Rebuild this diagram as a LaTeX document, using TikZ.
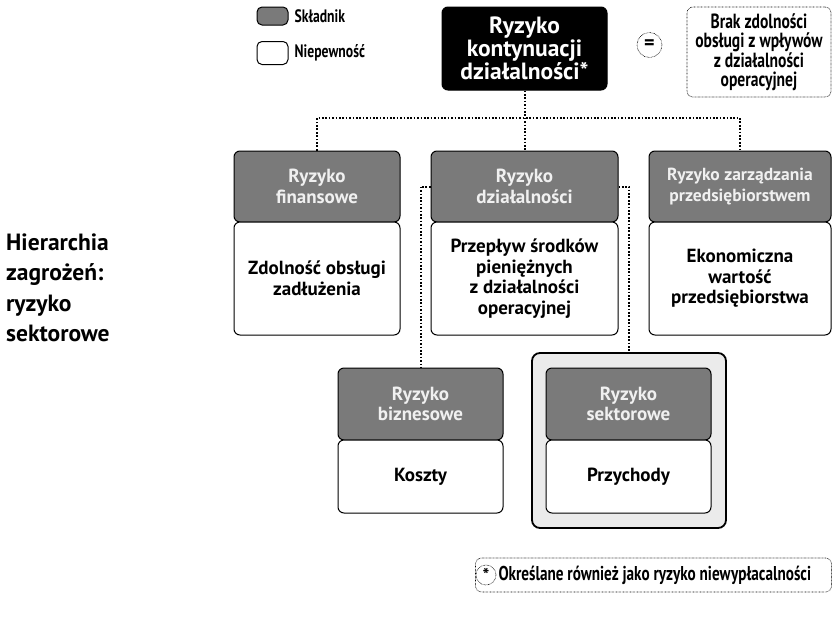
\documentclass[tikz,border=0pt]{standalone}
\usepackage{fontspec}
\setmainfont{PT Sans}
\newfontfamily\narrowfont[FakeStretch=0.76]{PT Sans}
\usetikzlibrary{positioning}
\definecolor{headgray}{RGB}{122,122,122}
\definecolor{framegray}{RGB}{235,235,235}
\begin{document}
\begin{tikzpicture}[x=1pt,y=-1pt,
  box/.style={draw=black,line width=1pt,rounded corners=6pt,align=center,inner sep=2pt,
    font=\bfseries\fontsize{19}{20.5}\selectfont},
  head/.style={box,fill=headgray,text=white!94!black,font=\bfseries\fontsize{19}{20.5}\selectfont},
  body/.style={box,fill=white,text=black},
  link/.style={line width=2pt,dash pattern=on 1.7pt off 1.7pt},
  note/.style={draw,line width=0.6pt,dash pattern=on 0.6pt off 0.8pt,rounded corners=6pt,align=center,
    font=\narrowfont\bfseries\fontsize{20.5}{19}\selectfont},
  legend/.style={inner sep=2pt,font=\narrowfont\bfseries\fontsize{18}{18}\selectfont}]
\useasboundingbox (0,0) rectangle (833,624);

% legend
\node[head,minimum width=31pt,minimum height=18pt,rounded corners=5pt] (lgc) at (272.5,16) {};
\node[legend,right=4pt of lgc] (lgcText) {Składnik};
\node[body,minimum width=31pt,minimum height=23pt,rounded corners=5pt] (lgu) at (272.5,53) {};
\node[legend,right=4pt of lgu] (lguText) {Niepewność};

% top of the hierarchy
\node[box,fill=black,text=white,minimum width=165pt,minimum height=83pt,
  font=\bfseries\fontsize{23.5}{21.5}\selectfont] (top) at (524.5,48.5) {Ryzyko\\kontynuacji\\działalności*};
\node[draw,circle,line width=0.6pt,dash pattern=on 0.6pt off 0.8pt,minimum size=25pt,inner sep=0pt,
  font=\bfseries\fontsize{20}{20}\selectfont] (eq) at (649.5,45) {=};
\node[note,minimum width=144pt,minimum height=90pt] (def) at (759,52)
  {Brak zdolności\\obsługi z wpływów\\z działalności\\operacyjnej};

% second level
\node[head,minimum width=166pt,minimum height=71pt] (finh) at (317,186.5) {Ryzyko\\finansowe};
\node[body,minimum width=166pt,minimum height=113pt] (finb) at (317,278.5) {Zdolność obsługi\\zadłużenia};
\node[head,minimum width=187pt,minimum height=71pt] (dzh) at (524.5,186.5) {Ryzyko\\działalności};
\node[body,minimum width=187pt,minimum height=113pt] (dzb) at (524.5,278.5)
  {Przepływ środków\\pieniężnych\\z działalności\\operacyjnej};
\node[head,minimum width=182pt,minimum height=71pt,font=\bfseries\fontsize{17.5}{20.5}\selectfont] (zarh)
  at (740,186.5) {Ryzyko zarządzania\\przedsiębiorstwem};
\node[body,minimum width=182pt,minimum height=113pt] (zarb) at (740,278.5)
  {Ekonomiczna\\wartość\\przedsiębiorstwa};

% third level
\node[head,minimum width=165pt,minimum height=72pt] (bizh) at (420.5,404) {Ryzyko\\biznesowe};
\node[body,minimum width=165pt,minimum height=73pt] (bizb) at (420.5,476.5) {Koszty};
\node[draw,line width=1.8pt,fill=framegray,rounded corners=8pt,minimum width=194pt,
  minimum height=175pt] (frame) at (629,440.5) {};
\node[head,minimum width=165pt,minimum height=72pt] (sekh) at (628.5,404) {Ryzyko\\sektorowe};
\node[body,minimum width=165pt,minimum height=73pt] (sekb) at (628.5,476.5) {Przychody};

% connectors
\coordinate (bus) at (524.5,118);
\draw[link] (top.south) -- (dzh.north);
\draw[link] (finh.north) |- (bus) -| (zarh.north);
\draw[link] (dzh.west) -| (bizh.north);
\draw[link] (dzh.east) -| (frame.north);

% title
\node[anchor=west,align=left,inner sep=0pt,font=\bfseries\fontsize{23.5}{30.5}\selectfont] (title)
  at (6,288) {Hierarchia\\zagrożeń:\\ryzyko\\sektorowe};

% footnote
\node[note,minimum width=356pt,minimum height=34pt] (fn) at (653.5,575) {};
\node[draw,circle,fill=white,line width=0.6pt,dash pattern=on 0.6pt off 0.8pt,minimum size=20pt,
  inner sep=0pt,font=\bfseries\fontsize{18}{18}\selectfont] (ast) at (486,575) {\raisebox{-6pt}{*}};
\node[legend,font=\narrowfont\bfseries\fontsize{20}{18}\selectfont,right=0pt of ast] (fnText)
  {Określane również jako ryzyko niewypłacalności};
\end{tikzpicture}
\end{document}
